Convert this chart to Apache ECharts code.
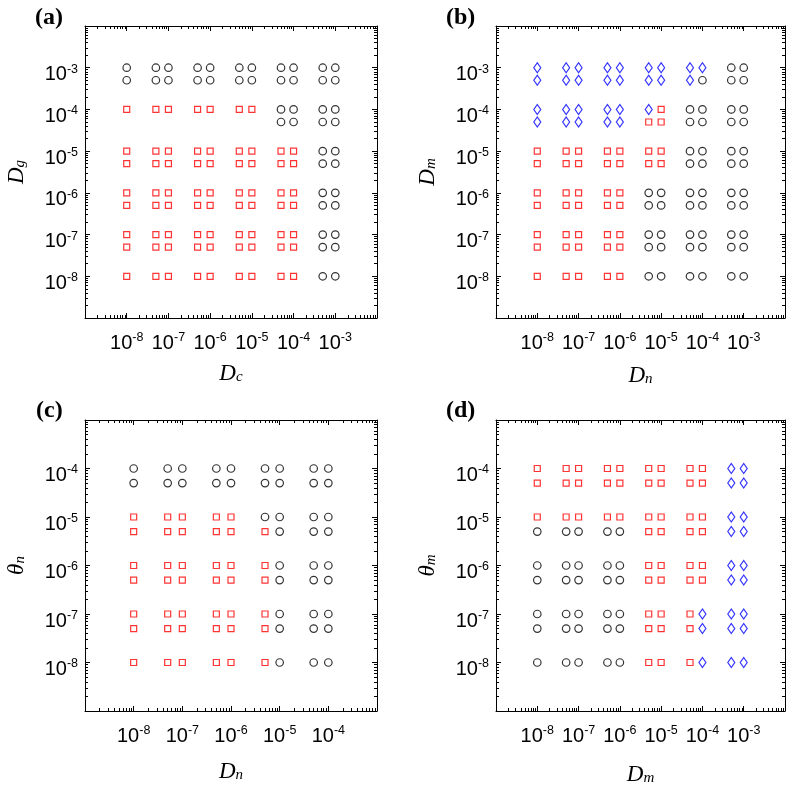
<!DOCTYPE html>
<html><head><meta charset="utf-8">
<script src="https://cdn.jsdelivr.net/npm/echarts@6/dist/echarts.min.js"></script>
<style>html,body{margin:0;padding:0;background:#fff}#c{width:787px;height:788px}</style>
</head><body><div id="c"></div>
<script>
// ---------- DATA ----------
// grid values for each panel; outcome rows run from the top (largest y) down
// codes: o = black circle, s = red square, d = blue diamond, . = no marker
const xValuesA = [1e-8, 5e-8, 1e-7, 5e-7, 1e-6, 5e-6, 1e-5, 5e-5, 1e-4, 5e-4, 1e-3];
const yValuesA = [1e-3, 5e-4, 1e-4, 5e-5, 1e-5, 5e-6, 1e-6, 5e-7, 1e-7, 5e-8, 1e-8];
const outcomeA = [
  'ooooooooooo',
  'ooooooooooo',
  'sssssssoooo',
  '.......oooo',
  'sssssssssoo',
  'sssssssssoo',
  'sssssssssoo',
  'sssssssssoo',
  'sssssssssoo',
  'sssssssssoo',
  'sssssssssoo'
];
const xValuesB = [1e-8, 5e-8, 1e-7, 5e-7, 1e-6, 5e-6, 1e-5, 5e-5, 1e-4, 5e-4, 1e-3];
const yValuesB = [1e-3, 5e-4, 1e-4, 5e-5, 1e-5, 5e-6, 1e-6, 5e-7, 1e-7, 5e-8, 1e-8];
const outcomeB = [
  'dddddddddoo',
  'ddddddddooo',
  'ddddddsoooo',
  'dddddssoooo',
  'sssssssoooo',
  'sssssssoooo',
  'sssssoooooo',
  'sssssoooooo',
  'sssssoooooo',
  'sssssoooooo',
  'sssssoooooo'
];
const xValuesC = [1e-8, 5e-8, 1e-7, 5e-7, 1e-6, 5e-6, 1e-5, 5e-5, 1e-4];
const yValuesC = [1e-4, 5e-5, 1e-5, 5e-6, 1e-6, 5e-7, 1e-7, 5e-8, 1e-8];
const outcomeC = [
  'ooooooooo',
  'ooooooooo',
  'sssssoooo',
  'ssssssooo',
  'ssssssooo',
  'ssssssooo',
  'ssssssooo',
  'ssssssooo',
  'ssssssooo'
];
const xValuesD = [1e-8, 5e-8, 1e-7, 5e-7, 1e-6, 5e-6, 1e-5, 5e-5, 1e-4, 5e-4, 1e-3];
const yValuesD = [1e-4, 5e-5, 1e-5, 5e-6, 1e-6, 5e-7, 1e-7, 5e-8, 1e-8];
const outcomeD = [
  'sssssssssdd',
  'sssssssssdd',
  'sssssssssdd',
  'ooooossssdd',
  'ooooossssdd',
  'ooooossssdd',
  'ooooosssddd',
  'ooooosssddd',
  'ooooosssddd'
];
// tick labels
const xTickLabelsA = [1e-8, 1e-7, 1e-6, 1e-5, 1e-4, 1e-3];
const yTickLabelsA = [1e-8, 1e-7, 1e-6, 1e-5, 1e-4, 1e-3];
const xTickLabelsB = [1e-8, 1e-7, 1e-6, 1e-5, 1e-4, 1e-3];
const yTickLabelsB = [1e-8, 1e-7, 1e-6, 1e-5, 1e-4, 1e-3];
const xTickLabelsC = [1e-8, 1e-7, 1e-6, 1e-5, 1e-4];
const yTickLabelsC = [1e-8, 1e-7, 1e-6, 1e-5, 1e-4];
const xTickLabelsD = [1e-8, 1e-7, 1e-6, 1e-5, 1e-4, 1e-3];
const yTickLabelsD = [1e-8, 1e-7, 1e-6, 1e-5, 1e-4];
// axis ranges
const rangeA = {x: [1e-9, 1e-2], y: [1e-9, 1e-2]};
const rangeB = {x: [1e-9, 1e-2], y: [1e-9, 1e-2]};
const rangeC = {x: [1e-9, 1e-3], y: [1e-9, 1e-3]};
const rangeD = {x: [1e-9, 1e-2], y: [1e-9, 1e-3]};
// titles
const panelTitles = ['(a)', '(b)', '(c)', '(d)'];
const xNames = [['D', 'c'], ['D', 'n'], ['D', 'n'], ['D', 'm']];
const yNames = [['D', 'g'], ['D', 'm'], ['θ', 'n'], ['θ', 'm']];

// ---------- LAYOUT / STYLE ----------
const panels = [
  {xv: xValuesA, yv: yValuesA, out: outcomeA, xl: xTickLabelsA, yl: yTickLabelsA, r: rangeA, box: [85, 26, 292, 292], xGap: 41, title: [35, 6]},
  {xv: xValuesB, yv: yValuesB, out: outcomeB, xl: xTickLabelsB, yl: yTickLabelsB, r: rangeB, box: [496, 26, 289, 292], xGap: 43, title: [446, 6]},
  {xv: xValuesC, yv: yValuesC, out: outcomeC, xl: xTickLabelsC, yl: yTickLabelsC, r: rangeC, box: [85, 420, 292, 291], xGap: 46, title: [36, 399]},
  {xv: xValuesD, yv: yValuesD, out: outcomeD, xl: xTickLabelsD, yl: yTickLabelsD, r: rangeD, box: [496, 420, 289, 291], xGap: 49, title: [446, 399]}
];
const markers = {
  o: {symbol: 'circle', size: 7.5, color: '#000000'},
  s: {symbol: 'rect', size: 6, color: '#ff0000'},
  d: {symbol: 'diamond', size: [7, 10], color: '#0000ff'}
};

function pow10(e) { return Number('1e' + e); }
function expOf(v) { return Math.round(Math.log10(v)); }
function majorTicks(lo, hi) {
  const out = [];
  for (let e = expOf(lo); e <= expOf(hi); e++) out.push(pow10(e));
  return out;
}
function minorTicks(lo, hi) {
  const out = [];
  for (let e = expOf(lo); e < expOf(hi); e++) for (let k = 2; k <= 9; k++) out.push(k * pow10(e));
  return out;
}
const tickRich = {
  b: {fontFamily: 'Liberation Sans', fontSize: 20, lineHeight: 22, verticalAlign: 'bottom', color: '#000'},
  s: {fontFamily: 'Liberation Sans', fontSize: 12.5, lineHeight: 10, verticalAlign: 'top', color: '#000'}
};
const nameRich = {
  m: {fontFamily: 'Liberation Serif', fontStyle: 'italic', fontSize: 23, lineHeight: 26, verticalAlign: 'bottom', color: '#000'},
  s: {fontFamily: 'Liberation Serif', fontStyle: 'italic', fontSize: 15, lineHeight: 11, verticalAlign: 'bottom', color: '#000'}
};
function fmt(v) { return '{b|10}{s|' + expOf(v) + '}'; }
function nameText(n) { return '{m|' + n[0] + '}{s|' + n[1] + '}'; }

const grid = [], xAxis = [], yAxis = [], series = [], graphic = [];
const lineBlack = {color: '#000', width: 1};

panels.forEach((p, gi) => {
  grid.push({left: p.box[0], top: p.box[1], width: p.box[2], height: p.box[3], show: false, containLabel: false, outerBoundsMode: 'none'});
  ['x', 'y'].forEach(dim => {
    const rng = p.r[dim];
    const common = {type: 'log', logBase: 10, gridIndex: gi, min: rng[0], max: rng[1], splitLine: {show: false}, minorSplitLine: {show: false}, axisPointer: {show: false}};
    const posMain = dim === 'x' ? 'bottom' : 'left';
    const posOpp = dim === 'x' ? 'top' : 'right';
    const majors = majorTicks(rng[0], rng[1]);
    const minors = minorTicks(rng[0], rng[1]);
    const labelCfg = dim === 'x'
      ? {show: true, customValues: p.xl, formatter: fmt, margin: 13, rich: tickRich}
      : {show: true, customValues: p.yl, formatter: fmt, margin: 7, padding: [12, 0, 0, 0], rich: tickRich};
    const list = [
      Object.assign({}, common, {
        position: posMain,
        axisLine: {show: true, onZero: false, lineStyle: lineBlack},
        axisTick: {show: true, inside: true, length: 5, customValues: majors, lineStyle: lineBlack},
        axisLabel: labelCfg,
        name: nameText(dim === 'x' ? xNames[gi] : yNames[gi]),
        nameLocation: 'middle',
        nameGap: dim === 'x' ? p.xGap : 57,
        nameTextStyle: {rich: nameRich}
      }),
      Object.assign({}, common, {
        position: posMain,
        axisLine: {show: false, onZero: false},
        axisTick: {show: true, inside: true, length: 3, customValues: minors, lineStyle: lineBlack},
        axisLabel: {show: false}
      }),
      Object.assign({}, common, {
        position: posOpp,
        axisLine: {show: true, onZero: false, lineStyle: lineBlack},
        axisTick: {show: true, inside: true, length: 5, customValues: majors, lineStyle: lineBlack},
        axisLabel: {show: false}
      }),
      Object.assign({}, common, {
        position: posOpp,
        axisLine: {show: false, onZero: false},
        axisTick: {show: true, inside: true, length: 3, customValues: minors, lineStyle: lineBlack},
        axisLabel: {show: false}
      })
    ];
    (dim === 'x' ? xAxis : yAxis).push(...list);
  });

  const buckets = {o: [], s: [], d: []};
  p.out.forEach((row, ri) => {
    row.split('').forEach((c, ci) => {
      if (buckets[c]) buckets[c].push([p.xv[ci], p.yv[ri]]);
    });
  });
  Object.keys(buckets).forEach(k => {
    if (!buckets[k].length) return;
    const m = markers[k];
    series.push({
      type: 'scatter', xAxisIndex: gi * 4, yAxisIndex: gi * 4,
      data: buckets[k], symbol: m.symbol, symbolSize: m.size,
      itemStyle: {color: 'rgba(0,0,0,0)', borderColor: m.color, borderWidth: 1.2},
      emphasis: {disabled: true}, silent: true, animation: false
    });
  });

  graphic.push({type: 'text', left: p.title[0], top: p.title[1],
    style: {text: panelTitles[gi], font: 'bold 24px "Liberation Serif"', fill: '#000'}});
});

const chart = echarts.init(document.getElementById('c'), null, {renderer: 'canvas'});
chart.setOption({
  animation: false,
  backgroundColor: '#fff',
  grid, xAxis, yAxis, series, graphic
});
</script>
</body></html>
